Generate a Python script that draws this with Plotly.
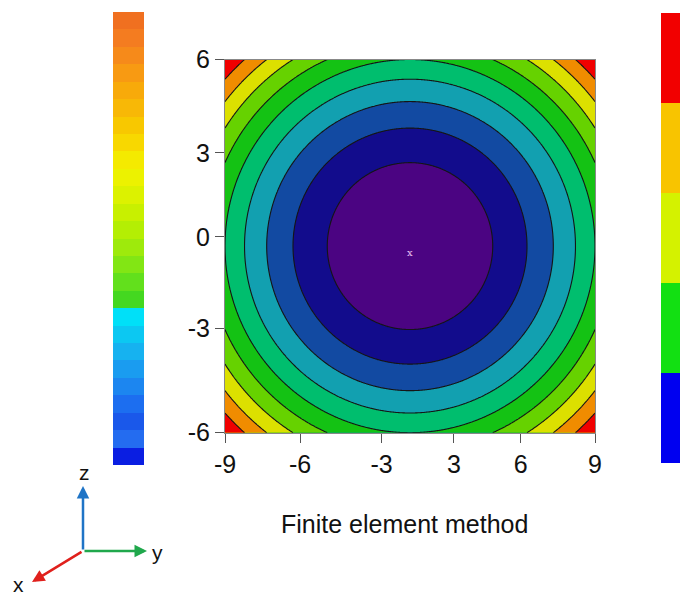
import numpy as np
import plotly.graph_objects as go

# ---------------- data ----------------
x_range = [-9, 9]
y_range = [-6, 6]
x_tick_labels = ["-9", "-6", "-3", "3", "6", "9"]
x_tick_pos = [-9, -5.35, -1.38, 2.14, 5.38, 9]
y_tick_labels = ["6", "3", "0", "-3", "-6"]
y_tick_pos = [6, 3.0, 0.3, -2.65, -6]

# contour levels of the normalised squared distance (x/9)^2 + (y/6)^2
level_start, level_end, level_step = 0.2, 1.8, 0.2
band_colors = ["#4b0482", "#120c8c", "#124aa2", "#12a0b0", "#00be6e",
               "#14c214", "#66d200", "#dce000", "#f08c00", "#f00000"]
center_mark = (0.0, -0.2)

left_bar_colors = ["#f07020", "#f47c20", "#f68a1a", "#f89a12", "#f8aa0a", "#f8b806",
                   "#f8c800", "#f8d800", "#f4ea00", "#ecf200", "#dcf200", "#c8f000",
                   "#b4ee04", "#9eea0c", "#82e614", "#62e01c", "#44d820",
                   "#00e0f8", "#0cc8f2", "#16b2f0", "#1a9cf0", "#1c86f0", "#1c6ef0",
                   "#1a58ea", "#246cf0", "#0a1ee2"]
right_bar_colors = ["#f20000", "#f8c400", "#d4f200", "#12e012", "#0000f0"]

# ---------------- figure ----------------
W, H = 680, 597
FONT = "Liberation Sans, Arial, sans-serif"

def px(xp):
    return xp / W

def py(yp):
    return 1 - yp / H

xs = np.linspace(x_range[0], x_range[1], 361)
ys = np.linspace(y_range[0], y_range[1], 241)
XX, YY = np.meshgrid(xs, ys)
ZZ = (XX / 9.0) ** 2 + (YY / 6.0) ** 2

n = len(band_colors)
cscale = [[i / (n - 1), c] for i, c in enumerate(band_colors)]

fig = go.Figure()
fig.add_trace(go.Contour(
    x=xs, y=ys, z=ZZ,
    contours=dict(start=level_start, end=level_end, size=level_step, coloring="fill"),
    colorscale=cscale, showscale=False,
    line=dict(color="#151515", width=1.1),
    hoverinfo="skip", xaxis="x", yaxis="y",
))

def discrete_scale(colors):
    m = len(colors)
    sc = []
    for i, c in enumerate(colors):
        sc.append([i / m, c])
        sc.append([(i + 1) / m, c])
    return sc

def bar_trace(colors, xa, ya):
    rev = list(reversed(colors))
    m = len(rev)
    return go.Heatmap(
        z=[[i] for i in range(m)], x=[0], y=list(range(m)),
        colorscale=discrete_scale(rev), zmin=-0.5, zmax=m - 0.5,
        showscale=False, hoverinfo="skip", xaxis=xa, yaxis=ya,
    )

fig.add_trace(bar_trace(left_bar_colors, "x2", "y2"))
fig.add_trace(bar_trace(right_bar_colors, "x3", "y3"))

axis_common = dict(showgrid=False, zeroline=False, ticks="outside", ticklen=9,
                   tickcolor="#555555", linecolor="#888888", linewidth=1, mirror=True,
                   automargin=False,
                   tickfont=dict(family=FONT, size=25, color="#111111"))
hidden = dict(visible=False, automargin=False, fixedrange=True)

fig.update_layout(
    template="none",
    width=W, height=H, margin=dict(l=0, r=0, t=0, b=0, pad=0, autoexpand=False),
    autosize=False,
    paper_bgcolor="white", plot_bgcolor="white", showlegend=False,
    xaxis=dict(domain=[px(225), px(595)], range=x_range, anchor="y",
               tickmode="array", tickvals=x_tick_pos, ticktext=x_tick_labels, **axis_common),
    yaxis=dict(domain=[py(432.7), py(59.5)], range=y_range, anchor="x",
               tickmode="array", tickvals=y_tick_pos, ticktext=y_tick_labels, **axis_common),
    xaxis2=dict(domain=[px(113), px(144)], anchor="y2", **hidden),
    yaxis2=dict(domain=[py(465), py(12)], anchor="x2", **hidden),
    xaxis3=dict(domain=[px(661), 1.0], anchor="y3", **hidden),
    yaxis3=dict(domain=[py(463), py(13)], anchor="x3", **hidden),
)

annotations = [
    dict(x=center_mark[0], y=center_mark[1], xref="x", yref="y", text="x", showarrow=False,
         font=dict(family="DejaVu Serif", size=10, color="#ecc4f4")),
    dict(x=px(404), y=py(524), xref="paper", yref="paper", text="Finite element method",
         showarrow=False, xanchor="center", yanchor="middle",
         font=dict(family=FONT, size=25, color="#111111")),
]

# coordinate triad
origin = (83, 551)
arrows = [((83, 486), "#1f74c6"), ((147, 551), "#20a84c"), ((32, 582), "#e0201c")]
for (hx, hy), col in arrows:
    annotations.append(dict(x=px(hx), y=py(hy), xref="paper", yref="paper",
                            ax=origin[0] - hx, ay=origin[1] - hy, axref="pixel", ayref="pixel",
                            showarrow=True, arrowhead=2, arrowsize=1, arrowwidth=2.5,
                            arrowcolor=col, text=""))
for txt, (lx, ly) in [("z", (84, 472)), ("y", (157, 552)), ("x", (18, 584))]:
    annotations.append(dict(x=px(lx), y=py(ly), xref="paper", yref="paper", text=txt,
                            showarrow=False, xanchor="center", yanchor="middle",
                            font=dict(family=FONT, size=21, color="#111111")))

fig.update_layout(annotations=annotations)
fig.write_html("out.html", config=dict(responsive=False, displayModeBar=False))
